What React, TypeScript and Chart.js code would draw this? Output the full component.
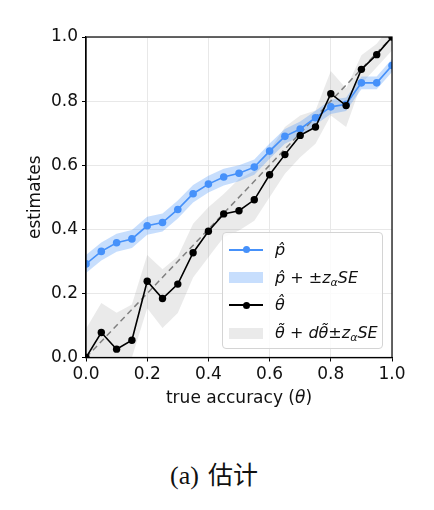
import React, { useEffect, useRef } from 'react';
import { Chart, registerables } from 'chart.js';

Chart.register(...registerables);

// true accuracy levels (x)
const accuracy = [0, 0.05, 0.1, 0.15, 0.2, 0.25, 0.3, 0.35, 0.4, 0.45, 0.5, 0.55, 0.6, 0.65, 0.7, 0.75, 0.8, 0.85, 0.9, 0.95, 1.0];

// p-hat estimate and its band
const pHat = [0.292, 0.331, 0.358, 0.370, 0.411, 0.421, 0.462, 0.511, 0.541, 0.563, 0.575, 0.594, 0.644, 0.690, 0.713, 0.748, 0.782, 0.790, 0.857, 0.857, 0.911];
const pHatHigh = [0.320, 0.359, 0.386, 0.398, 0.439, 0.449, 0.490, 0.538, 0.567, 0.589, 0.600, 0.618, 0.668, 0.713, 0.736, 0.770, 0.804, 0.811, 0.877, 0.877, 0.931];
const pHatLow = [0.264, 0.303, 0.330, 0.342, 0.383, 0.393, 0.434, 0.484, 0.515, 0.537, 0.550, 0.570, 0.620, 0.667, 0.690, 0.726, 0.760, 0.769, 0.837, 0.837, 0.891];

// theta-hat estimate and its band
const thetaHat = [0.0, 0.078, 0.026, 0.054, 0.238, 0.184, 0.229, 0.327, 0.394, 0.448, 0.458, 0.492, 0.570, 0.633, 0.693, 0.719, 0.823, 0.786, 0.899, 0.945, 1.0];
const thetaHigh = [0.09, 0.17, 0.14, 0.165, 0.32, 0.275, 0.315, 0.417, 0.469, 0.51, 0.557, 0.583, 0.646, 0.719, 0.755, 0.771, 0.894, 0.839, 0.943, 0.979, 1.04];
const thetaLow = [-0.09, -0.02, -0.08, 0.0, 0.154, 0.092, 0.139, 0.25, 0.313, 0.375, 0.396, 0.427, 0.5, 0.573, 0.625, 0.667, 0.755, 0.719, 0.854, 0.906, 0.958];

// y = x reference
const diagX = [0, 1];
const diagY = [0, 1];

const tickValues = [0, 0.2, 0.4, 0.6, 0.8, 1.0];

const BLUE = 'rgb(70, 145, 250)';
const BLUE_BAND = 'rgba(70, 145, 250, 0.3)';
const GREY_BAND = 'rgba(128, 128, 128, 0.17)';
const FONT = "'DejaVu Sans', sans-serif";

const pts = (xs: number[], ys: number[]) => xs.map((x, i) => ({ x, y: ys[i] }));

const framePlugin = {
  id: 'frame',
  afterDatasetsDraw(chart: any) {
    const { ctx, chartArea: { left, top, right, bottom } } = chart;
    ctx.save();
    ctx.strokeStyle = '#000';
    ctx.lineWidth = 1.2;
    ctx.strokeRect(left, top, right - left, bottom - top);
    ctx.restore();
  },
};

const LineHandle = ({ color }: { color: string }) => (
  <div style={{ position: 'absolute', left: 6, top: -1, width: 34, height: 2 }}>
    <div style={{ position: 'absolute', left: 0, top: 0, width: 34, height: 1.6, background: color }} />
    <div style={{ position: 'absolute', left: 13.5, top: -2.8, width: 7, height: 7, borderRadius: '50%', background: color }} />
  </div>
);

const PatchHandle = ({ color }: { color: string }) => (
  <div style={{ position: 'absolute', left: 6, top: -5.5, width: 34, height: 11, background: color }} />
);

const Row = ({ y, handle, children }: { y: number; handle: React.ReactNode; children: React.ReactNode }) => (
  <div style={{ position: 'absolute', left: 0, top: y, width: '100%' }}>
    {handle}
    <div style={{ position: 'absolute', left: 52, top: -11, height: 22, lineHeight: '22px', whiteSpace: 'nowrap', fontFamily: FONT, fontSize: 16, color: '#111' }}>
      {children}
    </div>
  </div>
);

const I = ({ children }: { children: React.ReactNode }) => <span style={{ fontStyle: 'italic' }}>{children}</span>;

const Sub = ({ children }: { children: React.ReactNode }) => (
  <sub style={{ fontSize: 11, fontStyle: 'italic', verticalAlign: -3 }}>{children}</sub>
);

const App: React.FC = () => {
  const canvasRef = useRef<HTMLCanvasElement>(null);

  useEffect(() => {
    const ctx = canvasRef.current?.getContext('2d');
    if (!ctx) return;
    const chart = new Chart(ctx, {
      type: 'line',
      data: {
        datasets: [
          { data: pts(accuracy, pHatLow), borderWidth: 0, pointRadius: 0, fill: false, order: 3 },
          { data: pts(accuracy, pHatHigh), borderWidth: 0, pointRadius: 0, fill: '-1', backgroundColor: BLUE_BAND, order: 3 },
          { data: pts(accuracy, thetaLow), borderWidth: 0, pointRadius: 0, fill: false, order: 4 },
          { data: pts(accuracy, thetaHigh), borderWidth: 0, pointRadius: 0, fill: '-1', backgroundColor: GREY_BAND, order: 4 },
          { data: pts(diagX, diagY), borderColor: '#808080', borderWidth: 1.5, borderDash: [6, 4], pointRadius: 0, fill: false, order: 2 },
          { data: pts(accuracy, pHat), borderColor: BLUE, backgroundColor: BLUE, borderWidth: 1.6, pointRadius: 3.8, pointBorderWidth: 0, fill: false, order: 1 },
          { data: pts(accuracy, thetaHat), borderColor: '#000', backgroundColor: '#000', borderWidth: 1.6, pointRadius: 3.7, pointBorderWidth: 0, fill: false, order: 0 },
        ],
      },
      options: {
        animation: false,
        responsive: true,
        maintainAspectRatio: false,
        layout: { padding: { left: 0, top: 37, right: 42, bottom: 0 } },
        plugins: { legend: { display: false }, tooltip: { enabled: false } },
        scales: {
          x: {
            type: 'linear',
            min: 0,
            max: 1,
            afterBuildTicks: (s: any) => { s.ticks = tickValues.map(v => ({ value: v })); },
            afterFit: (s: any) => { s.height = 62.5; },
            grid: { color: '#e8e8e8', tickColor: '#000', tickLength: 4 },
            border: { color: '#000', width: 1.2 },
            ticks: { padding: 3, color: '#111', font: { family: FONT, size: 17 }, callback: (v: any) => Number(v).toFixed(1), maxRotation: 0 },
            title: { display: false },
          },
          y: {
            type: 'linear',
            min: 0,
            max: 1,
            afterBuildTicks: (s: any) => { s.ticks = tickValues.map(v => ({ value: v })); },
            afterFit: (s: any) => { s.width = 86; },
            grid: { color: '#e8e8e8', tickColor: '#000', tickLength: 4 },
            border: { color: '#000', width: 1.2 },
            ticks: { padding: 4, color: '#111', font: { family: FONT, size: 17 }, callback: (v: any) => Number(v).toFixed(1) },
            title: { display: true, text: 'estimates', color: '#111', font: { family: FONT, size: 17 }, padding: { top: 25, bottom: 0 } },
          },
        },
      },
      plugins: [framePlugin],
    } as any);
    return () => chart.destroy();
  }, []);

  return (
    <div style={{ position: 'fixed', left: 0, top: 0, width: 434, height: 510, background: '#fff', overflow: 'hidden' }}>
      <div style={{ position: 'absolute', left: 0, top: 0, width: 434, height: 420 }}>
        <canvas ref={canvasRef} />
      </div>
      <div style={{ position: 'absolute', left: 86, width: 306, top: 385, height: 24, lineHeight: '24px', textAlign: 'center', fontFamily: FONT, fontSize: 17, color: '#111', whiteSpace: 'nowrap' }}>
        true accuracy (<I>θ</I>)
      </div>
      <div style={{ position: 'absolute', left: 222, top: 232, width: 159, height: 115, border: '1px solid #d4d4d4', borderRadius: 4, background: 'rgba(255,255,255,0.8)' }}>
        <Row y={17} handle={<LineHandle color={BLUE} />}>
          <I>p&#770;</I>
        </Row>
        <Row y={44.7} handle={<PatchHandle color={BLUE_BAND} />}>
          <I>p&#770;</I> + ±<I>z</I><Sub>α</Sub><I>SE</I>
        </Row>
        <Row y={72.3} handle={<LineHandle color="#000" />}>
          <I>θ&#770;</I>
        </Row>
        <Row y={100.3} handle={<PatchHandle color={GREY_BAND} />}>
          <I>θ&#771;</I> + <I>dθ&#771;</I>±<I>z</I><Sub>α</Sub><I>SE</I>
        </Row>
      </div>
      <div style={{ position: 'absolute', left: 0, width: 428, top: 457, height: 32, lineHeight: '32px', textAlign: 'center', fontFamily: "'Liberation Serif', serif", fontSize: 26, color: '#111', whiteSpace: 'nowrap' }}>
        <span style={{ marginRight: 9 }}>(a)</span><span style={{ fontFamily: "'Noto Sans CJK SC', sans-serif", fontWeight: 400, fontSize: 25 }}>估计</span>
      </div>
    </div>
  );
};

export default App;
